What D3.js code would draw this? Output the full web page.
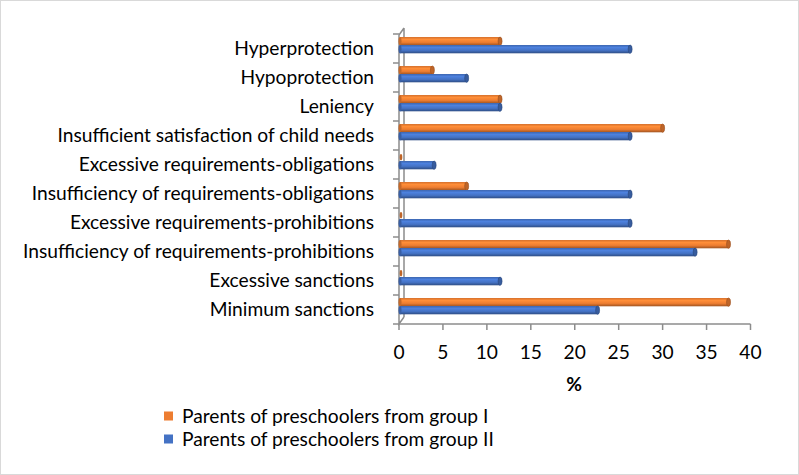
<!DOCTYPE html>
<html><head><meta charset="utf-8">
<script src="https://cdn.jsdelivr.net/npm/d3@7"></script>
<style>body{margin:0;background:#fff}svg{display:block}</style>
</head><body>
<script>
const categories = ["Hyperprotection","Hypoprotection","Leniency","Insufficient satisfaction of child needs","Excessive requirements-obligations","Insufficiency of requirements-obligations","Excessive requirements-prohibitions","Insufficiency of requirements-prohibitions","Excessive sanctions","Minimum sanctions"];
const groupI  = [11.5, 3.8, 11.5, 30.0, 0, 7.7, 0, 37.5, 0, 37.5];
const groupII = [26.3, 7.7, 11.5, 26.3, 4.0, 26.3, 26.3, 33.7, 11.5, 22.6];
const xTicks = [0,5,10,15,20,25,30,35,40];
const seriesNames = ["Parents of preschoolers from group I","Parents of preschoolers from group II"];
const colors = ["#ED7D31","#4472C4"];

const W=799,H=475;
const svg=d3.select("body").append("svg").attr("width",W).attr("height",H);
svg.append("rect").attr("x",0.5).attr("y",0.5).attr("width",W-1).attr("height",H-1).attr("fill","#fff").attr("stroke","#d9d9d9");

const defs=svg.append("defs");
function grad(id,c){
  const g=defs.append("linearGradient").attr("id",id).attr("x1",0).attr("y1",0).attr("x2",0).attr("y2",1);
  const col=d3.color(c);
  g.append("stop").attr("offset","0%").attr("stop-color",col.darker(0.3));
  g.append("stop").attr("offset","30%").attr("stop-color",col.brighter(0.35));
  g.append("stop").attr("offset","65%").attr("stop-color",col);
  g.append("stop").attr("offset","100%").attr("stop-color",col.darker(1.1));
}
grad("g0",colors[0]);grad("g1",colors[1]);

const x=d3.scaleLinear().domain([0,40]).range([399,750.5]);
const y=d3.scaleBand().domain(categories).range([34,324]);
const font="Lato, Carlito, Calibri, sans-serif";
const fs=19.2;

// axes lines (3D style)
const ax=svg.append("g").attr("stroke","#8c8c8c").attr("stroke-width",1.5).attr("fill","none");
ax.append("path").attr("d",`M${x(0)+5},${28} L${x(0)+5},${317} M${x(0)},${35} L${x(0)+5},${28} M${x(0)},${35} L${x(0)},${324} L${x(0)+5},${317}`);
ax.append("line").attr("x1",x(0)).attr("x2",x(40)).attr("y1",324).attr("y2",324);
xTicks.forEach(t=>ax.append("line").attr("x1",x(t)).attr("x2",x(t)).attr("y1",324).attr("y2",330));
categories.forEach(c=>ax.append("line").attr("x1",x(0)-6).attr("x2",x(0)).attr("y1",y(c)).attr("y2",y(c)));
ax.append("line").attr("x1",x(0)-6).attr("x2",x(0)).attr("y1",324).attr("y2",324);

// bars
const series=[groupI,groupII];
series.forEach((vals,si)=>{
  const g=svg.append("g");
  categories.forEach((c,i)=>{
    const v=vals[i];
    const cy=y(c)+y.bandwidth()/2;
    const y0 = si===0 ? cy-11.5 : cy-3.5;
    const h=8.3;
    const x0=x(0)+1, x1=x(v);
    const col=d3.color(colors[si]);
    if(v>0){
      g.append("rect").attr("x",x0).attr("y",y0).attr("width",Math.max(0,x1-x0)).attr("height",h).attr("fill",`url(#g${si})`);
      g.append("ellipse").attr("cx",x0).attr("cy",y0+h/2).attr("rx",1.5).attr("ry",h/2).attr("fill",col.darker(0.5));
      g.append("ellipse").attr("cx",x1).attr("cy",y0+h/2).attr("rx",2).attr("ry",h/2).attr("fill",col.darker(0.6)).attr("stroke",col.darker(1.2)).attr("stroke-width",0.6);
    } else {
      g.append("ellipse").attr("cx",x0+1).attr("cy",y0+h/2).attr("rx",1.3).attr("ry",h/2-1).attr("fill",col.darker(0.6));
    }
  });
});

// category labels
const tg=svg.append("g").attr("font-family",font).attr("font-size",fs).attr("fill","#000");
categories.forEach(c=>{
  tg.append("text").attr("x",374).attr("y",y(c)+y.bandwidth()/2).attr("dy","0.35em").attr("text-anchor","end").text(c);
});
// x tick labels
xTicks.forEach(t=>tg.append("text").attr("x",x(t)).attr("y",352).attr("dy","0.35em").attr("text-anchor","middle").text(t));
tg.append("text").attr("x",574).attr("y",384).attr("dy","0.35em").attr("text-anchor","middle").attr("font-weight","bold").text("%");

// legend
seriesNames.forEach((n,i)=>{
  const ly=416+i*23;
  svg.append("rect").attr("x",164).attr("y",ly-4.5).attr("width",9).attr("height",9).attr("fill",colors[i]);
  svg.append("text").attr("x",182).attr("y",ly).attr("dy","0.35em").attr("font-family",font).attr("font-size",fs).text(n);
});
</script>
</body></html>
